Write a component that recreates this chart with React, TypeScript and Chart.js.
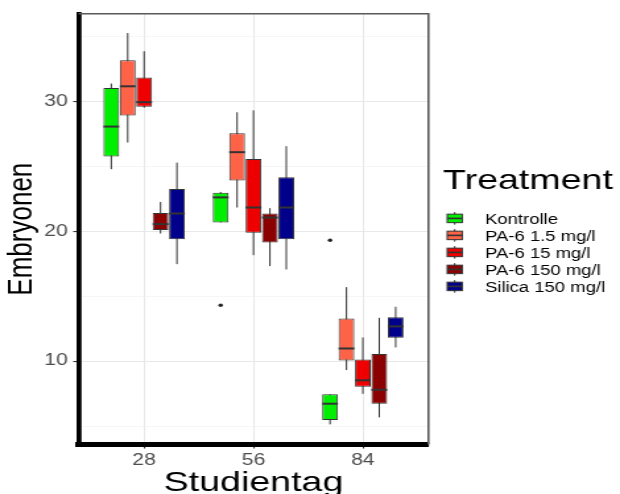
import React, { useEffect, useRef } from 'react';
import { Chart, registerables } from 'chart.js';

Chart.register(...registerables);

// ---- data ----
const days = ['28', '56', '84'];
const treatments = ['Kontrolle', 'PA-6 1.5 mg/l', 'PA-6 15 mg/l', 'PA-6 150 mg/l', 'Silica 150 mg/l'];
const colors = ['#00EE00', '#FF6347', '#EE0000', '#8B0000', '#00008B'];

// per treatment, per day
const lowerWhisker = [
  [24.77, 20.67, 5.13],
  [26.82, 21.82, 9.31],
  [29.5, 18.15, 7.48],
  [19.82, 17.31, 5.67],
  [17.46, 17.05, 11.05],
];
const q1 = [
  [25.75, 20.67, 5.46],
  [28.9, 23.9, 10.05],
  [29.58, 19.87, 8.02],
  [20.08, 19.13, 6.72],
  [19.38, 19.38, 11.79],
];
const median = [
  [28.05, 22.6, 6.72],
  [31.15, 26.08, 10.97],
  [29.93, 21.82, 8.52],
  [20.54, 21.05, 7.79],
  [21.36, 21.82, 12.67],
];
const q3 = [
  [31.02, 22.95, 7.44],
  [33.15, 27.54, 13.28],
  [31.82, 25.56, 10.13],
  [21.4, 21.36, 10.54],
  [23.25, 24.15, 13.38],
];
const upperWhisker = [
  [31.36, 23.02, 7.44],
  [35.25, 29.15, 15.69],
  [33.85, 29.3, 11.82],
  [22.25, 21.77, 13.33],
  [25.28, 26.54, 14.18],
];
const outliers: number[][][] = [
  [[], [14.3], [19.3]],
  [[], [], []],
  [[], [], []],
  [[], [], []],
  [[], [], []],
];

const yMajorTicks = [10, 20, 30];
const yMinorTicks = [5, 15, 25, 35];
const xTickPositions = [1, 2, 3];

const FONT = "'Liberation Sans', Arial, Helvetica, sans-serif";
const CHART_W = 470;
const CHART_H = 494;
const STRETCH = 620 / CHART_W;

const boxPlugin = {
  id: 'boxExtras',
  beforeDatasetsDraw(chart: any) {
    const { ctx } = chart;
    const y = chart.scales.y;
    chart.data.datasets.forEach((ds: any, i: number) => {
      const meta = chart.getDatasetMeta(i);
      meta.data.forEach((el: any, j: number) => {
        const { x } = el.getProps(['x'], true);
        ctx.save();
        ctx.strokeStyle = '#333333';
        ctx.lineWidth = 1;
        ctx.beginPath();
        ctx.moveTo(x, y.getPixelForValue(upperWhisker[i][j]));
        ctx.lineTo(x, y.getPixelForValue(lowerWhisker[i][j]));
        ctx.stroke();
        ctx.restore();
      });
    });
  },
  afterDatasetsDraw(chart: any) {
    const { ctx, chartArea } = chart;
    const y = chart.scales.y;
    chart.data.datasets.forEach((ds: any, i: number) => {
      const meta = chart.getDatasetMeta(i);
      meta.data.forEach((el: any, j: number) => {
        const { x, width } = el.getProps(['x', 'width'], true);
        const my = y.getPixelForValue(median[i][j]);
        ctx.save();
        ctx.strokeStyle = '#333333';
        ctx.lineWidth = 2;
        ctx.beginPath();
        ctx.moveTo(x - width / 2, my);
        ctx.lineTo(x + width / 2, my);
        ctx.stroke();
        ctx.fillStyle = '#222222';
        outliers[i][j].forEach((v) => {
          ctx.beginPath();
          ctx.arc(x, y.getPixelForValue(v), 1.7, 0, Math.PI * 2);
          ctx.fill();
        });
        ctx.restore();
      });
    });
    // panel border (top & right)
    ctx.save();
    ctx.strokeStyle = '#595959';
    ctx.lineWidth = 1.6;
    ctx.beginPath();
    ctx.moveTo(chartArea.left, chartArea.top);
    ctx.lineTo(chartArea.right, chartArea.top);
    ctx.lineTo(chartArea.right, chartArea.bottom);
    ctx.stroke();
    ctx.restore();
  },
  afterDraw(chart: any) {
    const { ctx } = chart;
    ctx.save();
    ctx.fillStyle = '#000000';
    ctx.textAlign = 'left';
    ctx.textBaseline = 'alphabetic';
    ctx.font = `28.5px ${FONT}`;
    ctx.fillText('Treatment', 335.8, 189.3);
    ctx.font = `14px ${FONT}`;
    treatments.forEach((t, i) => {
      const yc = 218.4 + 17 * i;
      const kx = 339;
      const kw = 11.4;
      const kh = 8.5;
      ctx.strokeStyle = '#333333';
      ctx.lineWidth = 1;
      ctx.beginPath();
      ctx.moveTo(kx + kw / 2, yc - kh / 2 - 2);
      ctx.lineTo(kx + kw / 2, yc + kh / 2 + 2);
      ctx.stroke();
      ctx.fillStyle = colors[i];
      ctx.fillRect(kx, yc - kh / 2, kw, kh);
      ctx.strokeRect(kx, yc - kh / 2, kw, kh);
      ctx.lineWidth = 1.6;
      ctx.beginPath();
      ctx.moveTo(kx, yc);
      ctx.lineTo(kx + kw, yc);
      ctx.stroke();
      ctx.fillStyle = '#000000';
      ctx.fillText(t, 367.7, yc + 5.9);
    });
    ctx.restore();
  },
};

export default function App() {
  const ref = useRef<HTMLCanvasElement | null>(null);

  useEffect(() => {
    if (!ref.current) return;
    const datasets = treatments.map((t, i) => ({
      type: 'bar' as const,
      label: t,
      data: days.map((d, j) => ({ x: j + 1, y: [q1[i][j], q3[i][j]] })),
      backgroundColor: colors[i],
      borderColor: '#333333',
      borderWidth: 1,
      borderSkipped: false,
      categoryPercentage: 0.75,
      barPercentage: 0.96,
    }));

    const chart = new Chart(ref.current, {
      type: 'bar',
      data: { datasets: datasets as any },
      plugins: [boxPlugin],
      options: {
        animation: false,
        responsive: false,
        maintainAspectRatio: false,
        layout: { padding: { top: 13.5, right: 145.2, left: 0, bottom: 0 } },
        plugins: {
          legend: { display: false },
          tooltip: { enabled: false },
        },
        scales: {
          x: {
            type: 'linear',
            min: 0.4,
            max: 3.6,
            offset: false,
            afterBuildTicks: (scale: any) => {
              scale.ticks = xTickPositions.map((v) => ({ value: v }));
            },
            afterFit: (scale: any) => {
              scale.height = 49.5;
            },
            ticks: {
              autoSkip: false,
              maxRotation: 0,
              padding: 2,
              color: '#4d4d4d',
              font: { family: FONT, size: 16 },
              callback: (v: any) => days[Number(v) - 1] ?? '',
            },
            grid: {
              offset: false,
              color: '#e8e8e8',
              lineWidth: 1.1,
              tickLength: 4,
              tickColor: '#333333',
            },
            border: { display: true, color: '#000000', width: 5 },
            title: {
              display: true,
              text: 'Studientag',
              color: '#000000',
              font: { family: FONT, size: 28.5, lineHeight: 1 },
              padding: { top: 0, bottom: -3.2 },
            },
          },
          y: {
            type: 'linear',
            min: 3.58,
            max: 36.73,
            afterBuildTicks: (scale: any) => {
              scale.ticks = [...yMinorTicks, ...yMajorTicks]
                .sort((a, b) => a - b)
                .map((v) => ({ value: v }));
            },
            afterFit: (scale: any) => {
              scale.width = 59.5;
            },
            ticks: {
              autoSkip: false,
              padding: 4.2,
              color: '#4d4d4d',
              font: { family: FONT, size: 16 },
              callback: (v: any) => (yMajorTicks.includes(Number(v)) ? String(v) : ''),
            },
            grid: {
              color: (c: any) => (c.tick && yMajorTicks.includes(c.tick.value) ? '#e8e8e8' : '#f0f0f0'),
              lineWidth: (c: any) => (c.tick && yMajorTicks.includes(c.tick.value) ? 1.1 : 0.6),
              tickLength: 4,
              tickColor: (c: any) => (c.tick && yMajorTicks.includes(c.tick.value) ? '#333333' : 'rgba(0,0,0,0)'),
            },
            border: { display: true, color: '#000000', width: 3.8 },
            title: {
              display: true,
              text: 'Embryonen',
              color: '#000000',
              font: { family: FONT, size: 26, lineHeight: 1 },
              padding: { top: 3.8, bottom: 0 },
            },
          },
        },
      } as any,
    });
    return () => chart.destroy();
  }, []);

  return (
    <div
      style={{
        position: 'fixed',
        left: 0,
        top: 0,
        width: 620,
        height: 494,
        overflow: 'hidden',
        background: '#ffffff',
      }}
    >
      <div
        style={{
          width: CHART_W,
          height: CHART_H,
          transform: `scaleX(${STRETCH})`,
          transformOrigin: '0 0',
        }}
      >
        <canvas ref={ref} width={CHART_W} height={CHART_H} style={{ display: 'block' }} />
      </div>
    </div>
  );
}
